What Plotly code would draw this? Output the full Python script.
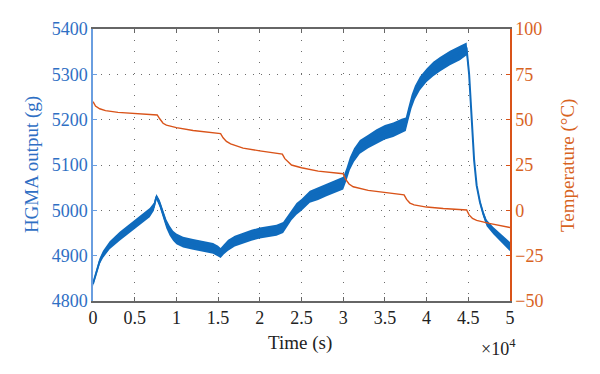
import plotly.graph_objects as go

# ---- data ----
hgma_t = [0, 400, 800, 1200, 2000, 3200, 4400, 5600, 6800, 7300, 7600, 8000, 8400, 8800,
          9200, 9600, 10000, 10800, 12000, 12800, 14400, 15000, 15300, 15700, 16200, 17000,
          18000, 19000, 20000, 21000, 22000, 22800, 23300, 23800, 24400, 25000, 26000, 27000,
          28000, 29000, 30000, 30400, 30800, 31300, 32000, 33000, 34000, 35000, 36000, 37000,
          37500, 37800, 38200, 38600, 39200, 40000, 40800, 41600, 42800, 44000, 44800, 45100,
          45400, 45700, 46000, 46400, 46800, 47200, 48000, 49000, 50000]
hgma_g = [4838, 4865, 4888, 4903, 4923, 4943, 4960, 4977, 4995, 5008, 5030, 5015, 4990, 4970,
          4955, 4944, 4937, 4930, 4925, 4922, 4916, 4910, 4906, 4914, 4923, 4932,
          4939, 4945, 4950, 4953, 4956, 4962, 4975, 4990, 5003, 5012, 5030, 5037,
          5045, 5052, 5060, 5080, 5103, 5122, 5140, 5152, 5163, 5172, 5178, 5186,
          5190, 5212, 5240, 5260, 5280, 5298, 5312, 5322, 5336, 5347, 5356, 5300,
          5200, 5110, 5055, 5018, 4992, 4972, 4955, 4938, 4920]
# half-width of the noise band (g)
hgma_spread = [5, 6, 7, 8, 9, 10, 10, 10, 10, 9, 6, 8, 9, 10,
               11, 11, 12, 12, 12, 12, 12, 12, 11, 11, 12, 12,
               12, 12, 12, 12, 12, 12, 12, 12, 13, 13, 13, 14,
               14, 14, 14, 14, 14, 15, 15, 15, 16, 16, 16, 16,
               15, 15, 15, 15, 15, 15, 16, 16, 16, 16, 14, 5,
               3, 3, 4, 5, 6, 7, 8, 9, 10]

temp_t = [0, 300, 800, 1500, 3000, 5000, 7700, 8000, 8400, 8800, 10000, 12000, 15300,
          15600, 16000, 16500, 18000, 20000, 22700, 23000, 23400, 23800, 25000, 27000, 30000,
          30300, 30700, 31200, 33000, 35000, 37300, 37600, 38000, 38500, 40000, 42000, 44800,
          45100, 45500, 46000, 47500, 50000]
temp_c = [59.9, 57.5, 56.0, 55.0, 54.0, 53.3, 52.6, 50.5, 48.0, 47.0, 45.6, 44.0, 42.3,
          40.0, 38.0, 36.6, 34.3, 32.8, 31.0, 28.5, 26.5, 25.0, 23.5, 21.6, 20.2,
          17.0, 14.5, 13.0, 11.0, 9.8, 8.5, 6.0, 4.0, 3.0, 1.8, 1.0, 0.2,
          -2.5, -4.5, -5.5, -7.2, -9.5]

x_ticks = [0, 5000, 10000, 15000, 20000, 25000, 30000, 35000, 40000, 45000, 50000]
x_ticktext = ["0", "0.5", "1", "1.5", "2", "2.5", "3", "3.5", "4", "4.5", "5"]
y1_ticks = [4800, 4900, 5000, 5100, 5200, 5300, 5400]
y2_ticks = [-50, -25, 0, 25, 50, 75, 100]

BLUE = "#0f6bbd"
BLUE_TXT = "#2f6fc4"
BLUE_AX = "#6a9ee0"
ORANGE = "#d95319"
ORANGE_TXT = "#d8641f"
GRAY = "#666666"
FONT = "Liberation Serif"

upper = [g + s for g, s in zip(hgma_g, hgma_spread)]
lower = [g - s for g, s in zip(hgma_g, hgma_spread)]

fig = go.Figure()
fig.add_trace(go.Scatter(x=hgma_t, y=lower, mode="lines", line=dict(width=0, color=BLUE),
                         showlegend=False, hoverinfo="skip"))
fig.add_trace(go.Scatter(x=hgma_t, y=upper, mode="lines", line=dict(width=0, color=BLUE),
                         fill="tonexty", fillcolor=BLUE, showlegend=False, hoverinfo="skip"))
fig.add_trace(go.Scatter(x=hgma_t, y=hgma_g, mode="lines", line=dict(width=2, color=BLUE),
                         name="HGMA output", showlegend=False))
fig.add_trace(go.Scatter(x=temp_t, y=temp_c, mode="lines", line=dict(width=1.4, color=ORANGE),
                         name="Temperature", yaxis="y2", showlegend=False))

fig.update_layout(
    width=600, height=374,
    margin=dict(l=93, r=90, t=29, b=73),
    paper_bgcolor="white", plot_bgcolor="white",
    font=dict(family=FONT, size=18, color="#222222"),
    xaxis=dict(
        range=[0, 50000], tickvals=x_ticks, ticktext=x_ticktext,
        ticks="inside", ticklen=4, tickcolor=GRAY, tickwidth=1,
        showline=True, linecolor=GRAY, linewidth=1.5, mirror="ticks",
        showgrid=True, gridcolor="rgba(70,70,70,0.8)", griddash="1px,10px", gridwidth=1,
        zeroline=False, tickfont=dict(family=FONT, size=18, color="#222222"),
    ),
    yaxis=dict(
        range=[4800, 5400], tickvals=y1_ticks,
        ticks="inside", ticklen=4, tickcolor=BLUE_AX, tickwidth=1,
        showline=True, linecolor=BLUE_AX, linewidth=1.5, mirror=False,
        showgrid=True, gridcolor="rgba(70,70,70,0.8)", griddash="1px,7px", gridwidth=1,
        zeroline=False, tickfont=dict(family=FONT, size=18, color=BLUE_TXT),
    ),
    yaxis2=dict(
        range=[-50, 100], tickvals=y2_ticks, overlaying="y", side="right",
        ticks="inside", ticklen=4, tickcolor=ORANGE, tickwidth=1,
        showline=True, linecolor=ORANGE, linewidth=1.5,
        showgrid=False, zeroline=False,
        tickfont=dict(family=FONT, size=18, color=ORANGE_TXT),
    ),
    annotations=[
        dict(text="Time (s)", xref="paper", yref="paper", x=0.496, y=-0.155,
             xanchor="center", yanchor="middle", showarrow=False,
             font=dict(family=FONT, size=19, color="#222222")),
        dict(text="×10<sup>4</sup>", xref="paper", yref="paper", x=1.018, y=-0.17,
             xanchor="right", yanchor="middle", showarrow=False,
             font=dict(family=FONT, size=18, color="#222222")),
        dict(text="HGMA output (g)", xref="paper", yref="paper", x=-0.146, y=0.5,
             xanchor="center", yanchor="middle", textangle=-90, showarrow=False,
             font=dict(family=FONT, size=19, color=BLUE_TXT)),
        dict(text="Temperature (°C)", xref="paper", yref="paper", x=1.139, y=0.5,
             xanchor="center", yanchor="middle", textangle=-90, showarrow=False,
             font=dict(family=FONT, size=19, color=ORANGE_TXT)),
    ],
)

fig.write_html("out.html", config={"displayModeBar": False},
               post_script="document.body.style.margin='0';")
